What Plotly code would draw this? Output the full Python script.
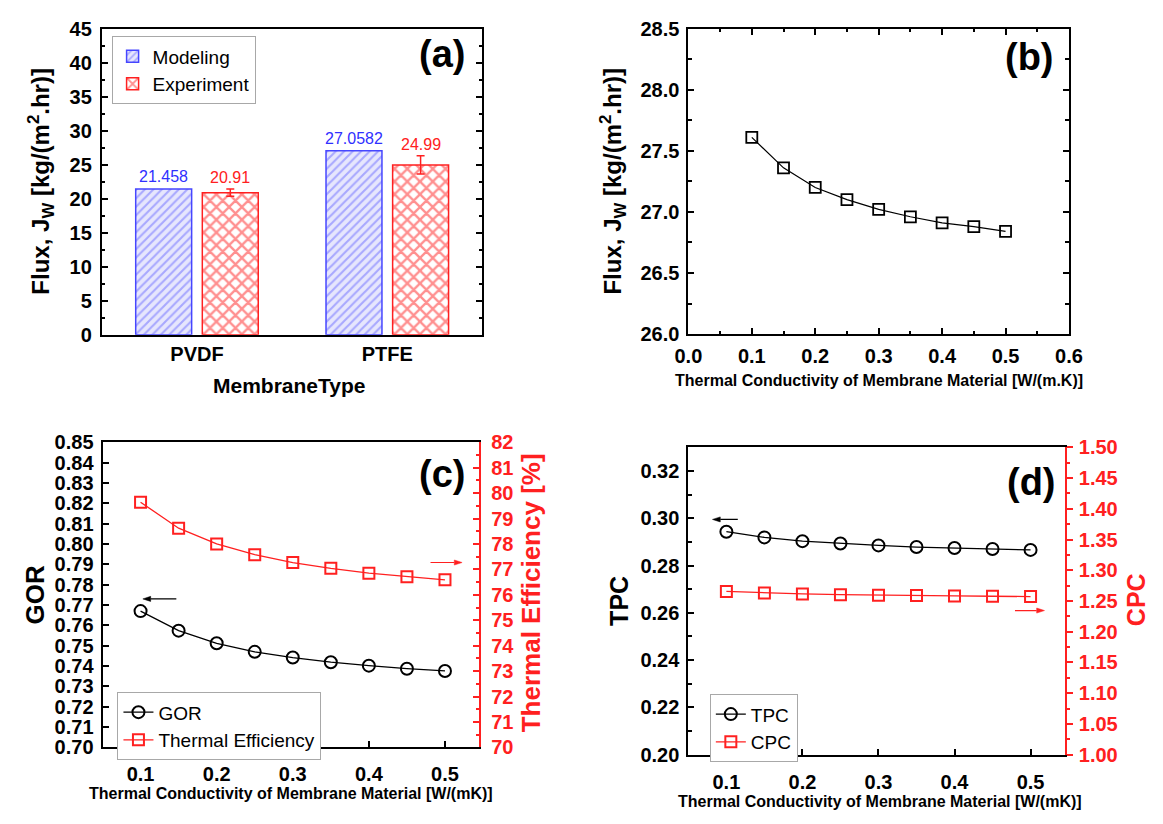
import plotly.graph_objects as go

# ---------------- data ----------------
membranes = ["PVDF", "PTFE"]
modeling_flux = [21.458, 27.0582]
experiment_flux = [20.91, 24.99]
experiment_err = [0.55, 1.35]

k_b = [0.1, 0.15, 0.2, 0.25, 0.3, 0.35, 0.4, 0.45, 0.5]
flux_b = [27.61, 27.36, 27.20, 27.10, 27.02, 26.96, 26.91, 26.88, 26.84]

k_c = [0.1, 0.15, 0.2, 0.25, 0.3, 0.35, 0.4, 0.45, 0.5]
gor = [0.7670, 0.7574, 0.7512, 0.7470, 0.7442, 0.7419, 0.7402, 0.7387, 0.7376]
thermal_eff = [79.64, 78.62, 78.00, 77.58, 77.27, 77.04, 76.85, 76.71, 76.59]

k_d = [0.1, 0.15, 0.2, 0.25, 0.3, 0.35, 0.4, 0.45, 0.5]
tpc = [0.2943, 0.2919, 0.2903, 0.2893, 0.2885, 0.2878, 0.2874, 0.2870, 0.2866]
cpc = [1.2656, 1.2629, 1.2614, 1.2603, 1.2592, 1.2587, 1.2582, 1.2577, 1.2571]

# ---------------- layout helpers ----------------
W, H = 1163, 824
FONT = "Arial, Liberation Sans, sans-serif"
BLUE = "#4646ff"
RED = "#ff2020"


def fx(p):
    return p / W


def fy(p):
    return 1 - p / H


BARGAP = 0.30
BARGROUPGAP = 0.16
half_slot = (1 - BARGAP) / 4  # centre offset of each bar in a group

# plot-area boxes in pixels (left, right, top, bottom) and axis ranges
BOX_A = (90, 480, 18.3, 332.7)
BOX_B = (691, 1081, 18, 332)
BOX_C = (90.7, 476.7, 443, 756.7)
BOX_D = (691, 1076.7, 448.3, 764)
K_RANGE = [0.05, 0.545]
GOR_RANGE = [0.70, 0.85]
TE_RANGE = [70, 82]
TPC_RANGE = [0.20, 0.33]
CPC_RANGE = [1.0, 1.5]

fig = go.Figure()

# ---------------- (a) bars ----------------
fig.add_trace(go.Bar(
    x=membranes, y=modeling_flux, name="Modeling",
    marker=dict(color="#e4e4fc", line=dict(color=BLUE, width=1.5),
                pattern=dict(shape="/", fgcolor="#6a6aff", bgcolor="#e6e6fd",
                             size=6, solidity=0.35)),
    xaxis="x", yaxis="y", legend="legend"))
fig.add_trace(go.Bar(
    x=membranes, y=experiment_flux, name="Experiment",
    marker=dict(color="white", line=dict(color=RED, width=1.5),
                pattern=dict(shape="x", fgcolor=RED, bgcolor="white",
                             size=9, solidity=0.45)),
    error_y=dict(type="data", array=experiment_err, color=RED,
                 thickness=1.5, width=4),
    xaxis="x", yaxis="y", legend="legend"))

annotations = []
for i, v in enumerate(modeling_flux):
    annotations.append(dict(x=i - half_slot, y=v, xref="x", yref="y", text=f"{v:g}",
                            showarrow=False, yanchor="bottom", yshift=2,
                            font=dict(family=FONT, size=16, color="#3030ff")))
for i, (v, e) in enumerate(zip(experiment_flux, experiment_err)):
    annotations.append(dict(x=i + half_slot, y=v + e, xref="x", yref="y", text=f"{v:g}",
                            showarrow=False, yanchor="bottom", yshift=1,
                            font=dict(family=FONT, size=16, color=RED)))

# ---------------- (b) flux vs conductivity ----------------
fig.add_trace(go.Scatter(
    x=k_b, y=flux_b, mode="lines+markers", showlegend=False,
    line=dict(color="black", width=1.2),
    marker=dict(symbol="square-open", size=11, color="black", line=dict(width=1.8)),
    xaxis="x2", yaxis="y2"))

# ---------------- (c) GOR / thermal efficiency ----------------
fig.add_trace(go.Scatter(
    x=k_c, y=gor, mode="lines+markers", name="GOR",
    line=dict(color="black", width=1.3),
    marker=dict(symbol="circle-open", size=12, color="black", line=dict(width=2)),
    xaxis="x3", yaxis="y3", legend="legend2"))
fig.add_trace(go.Scatter(
    x=k_c, y=thermal_eff, mode="lines+markers", name="Thermal Efficiency",
    line=dict(color=RED, width=1.3),
    marker=dict(symbol="square-open", size=11, color=RED, line=dict(width=2)),
    xaxis="x3", yaxis="y4", legend="legend2"))

# ---------------- (d) TPC / CPC ----------------
fig.add_trace(go.Scatter(
    x=k_d, y=tpc, mode="lines+markers", name="TPC",
    line=dict(color="black", width=1.3),
    marker=dict(symbol="circle-open", size=12, color="black", line=dict(width=2)),
    xaxis="x4", yaxis="y5", legend="legend3"))
fig.add_trace(go.Scatter(
    x=k_d, y=cpc, mode="lines+markers", name="CPC",
    line=dict(color=RED, width=1.3),
    marker=dict(symbol="square-open", size=11, color=RED, line=dict(width=2)),
    xaxis="x4", yaxis="y6", legend="legend3"))

# ---------------- axes ----------------
tick_font = dict(family=FONT, size=20, color="black", weight="bold")
red_tick_font = dict(family=FONT, size=20, color=RED, weight="bold")


def frame_axis(**kw):
    base = dict(showline=True, linecolor="black", linewidth=2, mirror="ticks",
                ticks="inside", ticklen=6, tickwidth=1.5, tickcolor="black",
                showgrid=False, zeroline=False, tickfont=tick_font, fixedrange=True)
    base.update(kw)
    return base


def minor_in(d):
    return dict(dtick=d, ticks="inside", ticklen=3.5, tickwidth=1.5, tickcolor="black")


def xdom(box):
    return [fx(box[0]), fx(box[1])]


def ydom(box):
    return [fy(box[3]), fy(box[2])]


k_ticks = [0.1, 0.2, 0.3, 0.4, 0.5]

layout_axes = dict(
    # (a)
    xaxis=frame_axis(domain=xdom(BOX_A), anchor="y", type="category",
                     range=[-0.5, 1.5], ticks="", ticklabelstandoff=0),
    yaxis=frame_axis(domain=ydom(BOX_A), anchor="x", range=[0, 45], dtick=5,
                     minor=minor_in(2.5), ticklabelstandoff=4),
    # (b)
    xaxis2=frame_axis(domain=xdom(BOX_B), anchor="y2", range=[0, 0.6], dtick=0.1,
                      tickformat=".1f", minor=minor_in(0.05), ticklabelstandoff=3),
    yaxis2=frame_axis(domain=ydom(BOX_B), anchor="x2", range=[26, 28.5], dtick=0.5,
                      tickformat=".1f", minor=minor_in(0.25), ticklabelstandoff=3),
    # (c)
    xaxis3=frame_axis(domain=xdom(BOX_C), anchor="y3", range=K_RANGE,
                      tickvals=k_ticks, ticktext=[f"{t:.1f}" for t in k_ticks],
                      mirror=True, ticklabelstandoff=8),
    yaxis3=frame_axis(domain=ydom(BOX_C), anchor="x3", range=GOR_RANGE, dtick=0.01,
                      tickformat=".2f", mirror=False, ticklabelstandoff=3),
    yaxis4=dict(overlaying="y3", side="right", anchor="x3", range=TE_RANGE, dtick=1,
                showline=True, linecolor=RED, linewidth=2, ticks="inside", ticklen=6,
                tickwidth=1.5, tickcolor=RED, showgrid=False, zeroline=False,
                tickfont=red_tick_font, ticklabelstandoff=6, fixedrange=True,
                minor=dict(dtick=0.5, ticks="inside", ticklen=3.5, tickwidth=1.5, tickcolor=RED)),
    # (d)
    xaxis4=frame_axis(domain=xdom(BOX_D), anchor="y5", range=K_RANGE,
                      tickvals=k_ticks, ticktext=[f"{t:.1f}" for t in k_ticks],
                      mirror=True, ticklabelstandoff=8),
    yaxis5=frame_axis(domain=ydom(BOX_D), anchor="x4", range=TPC_RANGE,
                      tickvals=[0.20, 0.22, 0.24, 0.26, 0.28, 0.30, 0.32], tickformat=".2f",
                      mirror=False, minor=minor_in(0.01), ticklabelstandoff=3),
    yaxis6=dict(overlaying="y5", side="right", anchor="x4", range=CPC_RANGE, dtick=0.05,
                tickformat=".2f", showline=True, linecolor=RED, linewidth=2, ticks="outside",
                ticklen=6, tickwidth=1.5, tickcolor=RED, showgrid=False, zeroline=False,
                tickfont=red_tick_font, ticklabelstandoff=2, fixedrange=True,
                minor=dict(dtick=0.025, ticks="outside", ticklen=3.5, tickwidth=1.5, tickcolor=RED)),
)

# ---------------- titles and panel labels ----------------
def title(text, x, y, size, angle=0, color="black"):
    return dict(text=text, x=fx(x), y=fy(y), xref="paper", yref="paper", showarrow=False,
                textangle=angle, xanchor="center", yanchor="middle",
                font=dict(family=FONT, size=size, color=color, weight="bold"))


flux_title = "Flux, J<sub>W</sub> [kg/(m<sup>2</sup>.hr)]"
annotations += [
    title(flux_title, 28, 175, 24, -90),
    title("MembraneType", 282, 385, 21),
    title(flux_title, 614, 175, 24, -90),
    title("Thermal Conductivity of Membrane Material [W/(m.K)]", 886, 380, 16),
    title("GOR", 22, 600, 26, -90),
    title("Thermal Efficiency [%]", 530, 598, 26, -90, RED),
    title("Thermal Conductivity of Membrane Material [W/(mK)]", 284, 804, 16),
    title("TPC", 620, 606, 25, -90),
    title("CPC", 1150, 605, 25, -90, RED),
    title("Thermal Conductivity of Membrane Material [W/(mK)]", 887, 812, 16),
    title("(a)", 439, 44, 38),
    title("(b)", 1041, 47, 38),
    title("(c)", 439, 476, 38),
    title("(d)", 1043, 484, 38),
]

# ---------------- axis-pointing arrows (line + triangular head) ----------------
def arrow_shapes(x0, x1, y, xr, yr, color, box, xrange, yrange):
    # data units per pixel so the head keeps a fixed pixel size
    dxp = (xrange[1] - xrange[0]) / (box[1] - box[0])
    dyp = (yrange[1] - yrange[0]) / (box[3] - box[2])
    direction = 1 if x1 > x0 else -1
    head_len, head_half = 8 * dxp, 2.6 * dyp
    base = x1 - direction * head_len
    return [
        dict(type="line", xref=xr, yref=yr, x0=x0, x1=base, y0=y, y1=y,
             line=dict(color=color, width=1.2)),
        dict(type="path", xref=xr, yref=yr, fillcolor=color, line=dict(color=color, width=0.5),
             path=f"M {x1},{y} L {base},{y + head_half} L {base},{y - head_half} Z"),
    ]


shapes = []
shapes += arrow_shapes(0.147, 0.103, 0.773, "x3", "y3", "black", BOX_C, K_RANGE, GOR_RANGE)
shapes += arrow_shapes(0.481, 0.5225, 77.27, "x3", "y4", RED, BOX_C, K_RANGE, TE_RANGE)
shapes += arrow_shapes(0.115, 0.0817, 0.2995, "x4", "y5", "black", BOX_D, K_RANGE, TPC_RANGE)
shapes += arrow_shapes(0.4795, 0.5183, 1.2344, "x4", "y6", RED, BOX_D, K_RANGE, CPC_RANGE)

legend_common = dict(xanchor="left", yanchor="top", bgcolor="white",
                     bordercolor="#a8a8a8", borderwidth=1, tracegroupgap=0,
                     font=dict(family=FONT, size=19, color="black"))

fig.update_layout(
    width=W, height=H, autosize=False,
    margin=dict(l=0, r=0, t=0, b=0),
    paper_bgcolor="white", plot_bgcolor="white",
    font=dict(family=FONT, color="black"),
    barmode="group", bargap=BARGAP, bargroupgap=BARGROUPGAP,
    legend=dict(x=fx(100), y=fy(26), **legend_common),
    legend2=dict(x=fx(106), y=fy(700), **legend_common),
    legend3=dict(x=fx(713), y=fy(702), **legend_common),
    annotations=annotations,
    shapes=shapes,
    **layout_axes,
)

fig.write_html("out.html")
